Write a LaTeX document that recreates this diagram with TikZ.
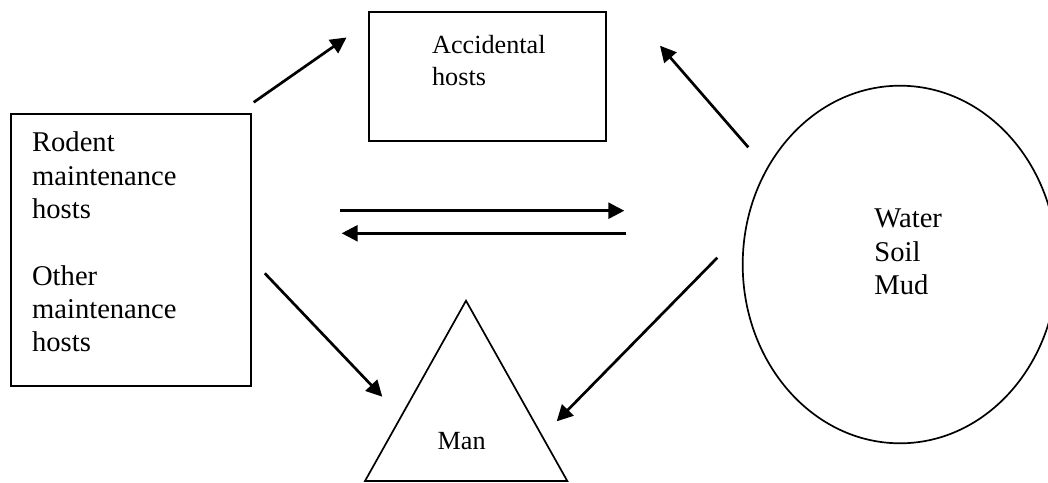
\documentclass[tikz,border=0pt]{standalone}
\usepackage{fontspec}
\setmainfont{Liberation Serif}
\usetikzlibrary{arrows.meta,shapes.geometric}
\begin{document}
\begin{tikzpicture}[x=0.5pt,y=-0.5pt,
  outline/.style={draw, line width=0.85pt, inner sep=0pt},
  flow/.style={draw, line width=1.35pt, -{Triangle[length=8pt,width=8pt]}},
  bigtext/.style={anchor=base west, inner sep=0pt, font=\fontsize{14.3}{16.67}\selectfont},
  smalltext/.style={anchor=base west, inner sep=0pt, font=\fontsize{13.1}{15.85}\selectfont}]
\useasboundingbox (0,0) rectangle (1048,482);

% hosts, accidental hosts, environment
\node[outline, rectangle, minimum width=120pt, minimum height=136pt] (hosts) at (130.7,250) {};
\node[outline, rectangle, minimum width=118.5pt, minimum height=64.4pt] (acc) at (487.5,76.7) {};
\node[outline, ellipse, minimum width=157.3pt, minimum height=178.8pt] (env) at (900,264.5) {};

% man
\coordinate (mtop) at (466,300.7);
\coordinate (mright) at (567.3,481);
\coordinate (mleft) at (365,481);
\draw[line width=0.85pt] (mtop) -- (mright) -- (mleft) -- cycle;

% labels
\node[bigtext] (hoststext) at (31.7,151.7)
  {\begin{tabular}[t]{@{}l@{}}Rodent\\ maintenance\\ hosts\\ \\ Other\\ maintenance\\ hosts\end{tabular}};
\node[smalltext] (acctext) at (431.7,53.3)
  {\begin{tabular}[t]{@{}l@{}}Accidental\\ hosts\end{tabular}};
\node[bigtext] (envtext) at (874,227.7)
  {\begin{tabular}[t]{@{}l@{}}Water\\ Soil\\ Mud\end{tabular}};
\node[smalltext] (mantext) at (437.3,449) {Man};

% connector ends
\coordinate (h2a) at (253.7,102.3);
\coordinate (a2h) at (346.5,37.5);
\coordinate (e2a) at (748.3,147.3);
\coordinate (a2e) at (660,45.7);
\coordinate (fwdS) at (340,210.7);
\coordinate (fwdE) at (624.3,210.7);
\coordinate (backS) at (626,233.3);
\coordinate (backE) at (341.7,233.3);
\coordinate (h2m) at (264.8,273.3);
\coordinate (m2h) at (382.3,396.7);
\coordinate (e2m) at (717.3,257.7);
\coordinate (m2e) at (556.7,421.3);

% connectors
\draw[flow] (h2a) -- (a2h);
\draw[flow] (e2a) -- (a2e);
\draw[flow] (fwdS) -- (fwdE);
\draw[flow] (backS) -- (backE);
\draw[flow] (h2m) -- (m2h);
\draw[flow] (e2m) -- (m2e);
\end{tikzpicture}
\end{document}
